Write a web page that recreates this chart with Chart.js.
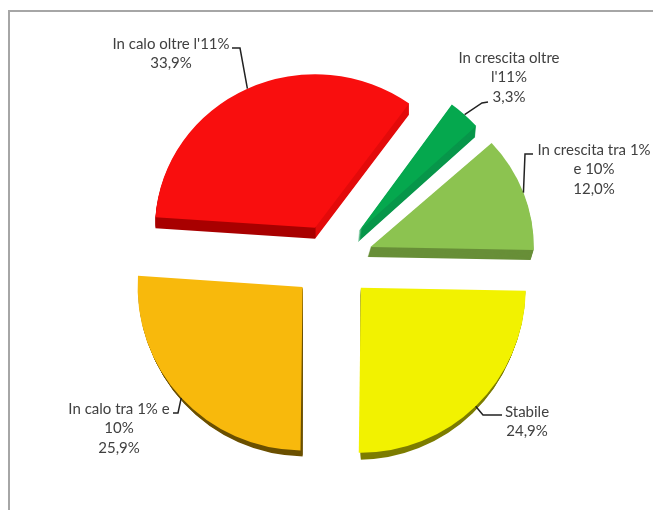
<!DOCTYPE html>
<html lang="it">
<head>
<meta charset="utf-8">
<title>Andamento</title>
<script src="https://cdn.jsdelivr.net/npm/chart.js@4/dist/chart.umd.min.js"></script>
<style>
  html, body { margin: 0; padding: 0; background: #fff; overflow: hidden; }
  #wrap { position: relative; width: 653px; height: 510px; }
  #frame { position: absolute; left: 8px; top: 10px; right: 0; bottom: 0;
           border-left: 2px solid #a6a6a6; border-top: 2px solid #a6a6a6; }
  canvas { position: absolute; left: 0; top: 0; }
</style>
</head>
<body>
<div id="wrap">
  <div id="frame"></div>
  <canvas id="chart" width="653" height="510"></canvas>
</div>
<script>
  // Dati
  const categories = [
    "In crescita oltre l'11%",
    'In crescita tra 1% e 10%',
    'Stabile',
    'In calo tra 1% e 10%',
    "In calo oltre l'11%"
  ];
  const values = [3.3, 12.0, 24.9, 25.9, 33.9];

  // Righe delle etichette, come vanno a capo nell'originale
  const labelLines = [
    ['In crescita oltre', "l'11%"],
    ['In crescita tra 1%', 'e 10%'],
    ['Stabile'],
    ['In calo tra 1% e', '10%'],
    ["In calo oltre l'11%"]
  ];

  // Colori: faccia superiore e bordo 3D
  const faceColors = ['#05a84e', '#8cc350', '#f2f200', '#f8b90c', '#f90e0e'];
  const sideColors = ['#07964a', '#688f38', '#7d7d00', '#6b5000', '#a80000'];

  // Posizione del centro etichetta e gomito della linea guida
  const labelPos = [[509, 58], [594, 150], [527, 412], [119, 409], [171, 44]];
  const elbows = [
    [[488, 102], [482, 103]],
    [[533, 154], [525, 154]],
    [[502, 415], [483, 415]],
    [[173, 413], [178, 413]],
    [[232, 48], [240, 48]]
  ];

  // Prospettiva: le fette dietro sono schiacciate, lo spessore cambia per fetta
  const perspX = [0.96, 0.99, 1, 1, 0.97];
  const perspY = [0.95, 0.94, 1, 0.99, 0.93];
  const shiftX = [0, 1, 1, 0, 0];
  const shiftY = [1, 1, -1, 0, 4];
  const depthX = [-1, -3, -3, 3, 0];
  const depthY = [11, 10, 7, 6, 11];

  const EXPLODE = 40;
  const LINE_H = 19.5;

  function fmtPct(v) {
    return v.toFixed(1).replace('.', ',') + '%';
  }

  function explodeOffset(arc) {
    const mid = (arc.startAngle + arc.endAngle) / 2;
    return { x: Math.cos(mid) * EXPLODE, y: Math.sin(mid) * EXPLODE, mid };
  }

  // Porta il contesto sul vertice della fetta, con la sua prospettiva
  function placeArc(ctx, arc, i, o) {
    ctx.translate(arc.x + o.x + shiftX[i], arc.y + o.y + shiftY[i]);
    ctx.scale(perspX[i], perspY[i]);
    ctx.translate(-arc.x, -arc.y);
  }

  // Il bordo del rosso e' scuro solo a sinistra del vertice
  function sideFill(ctx, arc, i) {
    if (i !== 4) return sideColors[i];
    const g = ctx.createLinearGradient(arc.x, 0, arc.x + 1, 0);
    g.addColorStop(0, sideColors[i]);
    g.addColorStop(1, '#e30a0a');
    return g;
  }

  // Le fette davanti mostrano lo spessore solo sul lato curvo, non sul taglio dritto
  function clipFrontSide(ctx, chart, arc, i, o) {
    if (o.y <= 0) return;
    const apexX = arc.x + o.x + shiftX[i];
    ctx.beginPath();
    if (depthX[i] > 0) ctx.rect(0, 0, apexX, chart.height);
    else ctx.rect(apexX, 0, chart.width - apexX, chart.height);
    ctx.clip();
  }

  // Fette esplose con spessore 3D: Chart.js ingrandisce il raggio se si usa "offset"
  const explodedPie = {
    id: 'explodedPie',
    beforeDatasetDraw(chart, args) {
      const ctx = chart.ctx;
      const arcs = args.meta.data;
      arcs.forEach((arc, i) => {
        const o = explodeOffset(arc);
        const face = arc.options;
        arc.options = Object.assign({}, face, { backgroundColor: sideFill(ctx, arc, i) });
        ctx.save();
        clipFrontSide(ctx, chart, arc, i, o);
        for (let d = depthY[i]; d > 0; d--) {
          ctx.save();
          ctx.translate(depthX[i] * d / depthY[i], d);
          placeArc(ctx, arc, i, o);
          arc.draw(ctx);
          ctx.restore();
        }
        ctx.restore();
        arc.options = face;
        ctx.save();
        placeArc(ctx, arc, i, o);
        arc.draw(ctx);
        ctx.restore();
      });
      return false;
    }
  };

  const pieLabels = {
    id: 'pieLabels',
    afterDraw(chart) {
      const ctx = chart.ctx;
      const arcs = chart.getDatasetMeta(0).data;
      ctx.save();
      arcs.forEach((arc, i) => {
        const o = explodeOffset(arc);
        const endX = arc.x + o.x + shiftX[i] + Math.cos(o.mid) * arc.outerRadius * perspX[i];
        const endY = arc.y + o.y + shiftY[i] + Math.sin(o.mid) * arc.outerRadius * perspY[i];
        ctx.beginPath();
        ctx.moveTo(elbows[i][0][0], elbows[i][0][1]);
        ctx.lineTo(elbows[i][1][0], elbows[i][1][1]);
        ctx.lineTo(endX, endY);
        ctx.strokeStyle = '#222';
        ctx.lineWidth = 1.5;
        ctx.stroke();

        const lines = labelLines[i].concat(fmtPct(values[i]));
        ctx.font = '15px Lato';
        ctx.fillStyle = '#404040';
        ctx.textAlign = 'center';
        ctx.textBaseline = 'middle';
        lines.forEach((t, n) => {
          ctx.fillText(t, labelPos[i][0], labelPos[i][1] + n * LINE_H);
        });
      });
      ctx.restore();
    }
  };

  new Chart(document.getElementById('chart'), {
    type: 'pie',
    data: {
      labels: categories,
      datasets: [{
        data: values,
        backgroundColor: faceColors,
        borderWidth: 0,
        radius: 165
      }]
    },
    options: {
      responsive: false,
      animation: false,
      rotation: 36,
      layout: { padding: { left: 11, top: 10 } },
      plugins: { legend: { display: false }, tooltip: { enabled: false } }
    },
    plugins: [explodedPie, pieLabels]
  });
</script>
</body>
</html>
